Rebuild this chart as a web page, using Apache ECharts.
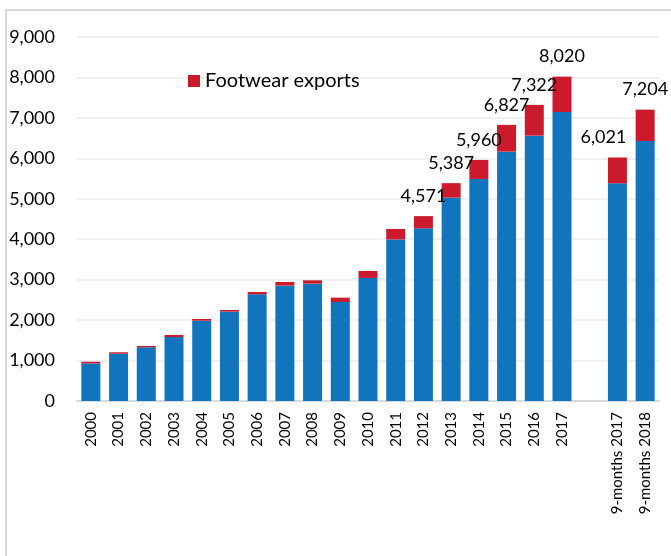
<!DOCTYPE html>
<html>
<head>
<meta charset="utf-8">
<script src="https://cdn.jsdelivr.net/npm/echarts@6/dist/echarts.min.js"></script>
<style>
  html, body { margin: 0; padding: 0; background: #fff; }
  #chart { width: 671px; height: 556px; }
</style>
</head>
<body>
<div id="chart"></div>
<script>
// Categories: annual figures, a spacer slot, then the nine-month comparisons
const categories = ['2000', '2001', '2002', '2003', '2004', '2005', '2006', '2007', '2008', '2009',
  '2010', '2011', '2012', '2013', '2014', '2015', '2016', '2017', '', '9-months 2017', '9-months 2018'];

// Other exports (lower stack)
const otherExports = [930, 1170, 1328, 1583, 1986, 2209, 2638, 2852, 2901, 2448,
  3042, 3995, 4270, 5028, 5490, 6165, 6561, 7146, null, 5383, 6429];

// Footwear exports (upper stack)
const footwearExports = [40, 35, 32, 50, 42, 41, 57, 91, 83, 107,
  173, 258, 301, 359, 470, 662, 761, 874, null, 638, 775];

// Total labels printed above selected bars
const totalLabels = [null, null, null, null, null, null, null, null, null, null,
  null, null, 4571, 5387, 5960, 6827, 7322, 8020, null, 6021, 7204];

const yTicks = { min: 0, max: 9000, interval: 1000 };

const FONT = 'Lato, "Open Sans", sans-serif';
const BLUE = '#1175BD';
const RED = '#CB1A2C';

const fmt = v => v.toLocaleString('en-US');

const footwearData = footwearExports.map((v, i) => {
  const item = { value: v };
  if (totalLabels[i] != null) {
    item.label = {
      show: true,
      position: 'top',
      distance: 11,
      formatter: fmt(totalLabels[i]),
      offset: i === 19 ? [-14, 0] : [0, 0]
    };
  }
  return item;
});

const chart = echarts.init(document.getElementById('chart'), null, { renderer: 'canvas' });

chart.setOption({
  animation: false,
  backgroundColor: '#fff',
  textStyle: { fontFamily: FONT },
  grid: { left: 77, right: 12, top: 37, bottom: 155, containLabel: false },
  legend: {
    data: ['Footwear exports'],
    left: 183,
    top: 66,
    icon: 'rect',
    itemWidth: 12,
    itemHeight: 12,
    textStyle: { fontFamily: FONT, fontSize: 20, color: '#000' }
  },
  xAxis: {
    type: 'category',
    data: categories,
    axisLine: { show: true, lineStyle: { color: '#D9D9D9', width: 2 } },
    axisTick: { show: false },
    axisLabel: {
      rotate: 90,
      interval: 0,
      margin: 11,
      fontSize: 15,
      fontFamily: FONT,
      color: '#000'
    }
  },
  yAxis: {
    type: 'value',
    min: yTicks.min,
    max: yTicks.max,
    interval: yTicks.interval,
    axisLine: { show: false },
    axisTick: { show: false },
    splitLine: { lineStyle: { color: '#F0F0F0', width: 2 } },
    axisLabel: {
      formatter: v => fmt(v),
      margin: 22,
      fontSize: 18,
      fontFamily: FONT,
      color: '#000'
    }
  },
  series: [
    {
      name: 'Other exports',
      type: 'bar',
      stack: 'total',
      barWidth: 19,
      itemStyle: { color: BLUE },
      data: otherExports
    },
    {
      name: 'Footwear exports',
      type: 'bar',
      stack: 'total',
      barWidth: 19,
      itemStyle: { color: RED },
      label: {
        show: false,
        fontSize: 18,
        fontFamily: FONT,
        color: '#000'
      },
      data: footwearData
    }
  ],
  graphic: [
    {
      type: 'polyline',
      shape: { points: [[6, 556], [6, 10], [671, 10]] },
      style: { stroke: '#D9D9D9', lineWidth: 2, fill: null },
      silent: true
    }
  ]
});
</script>
</body>
</html>
